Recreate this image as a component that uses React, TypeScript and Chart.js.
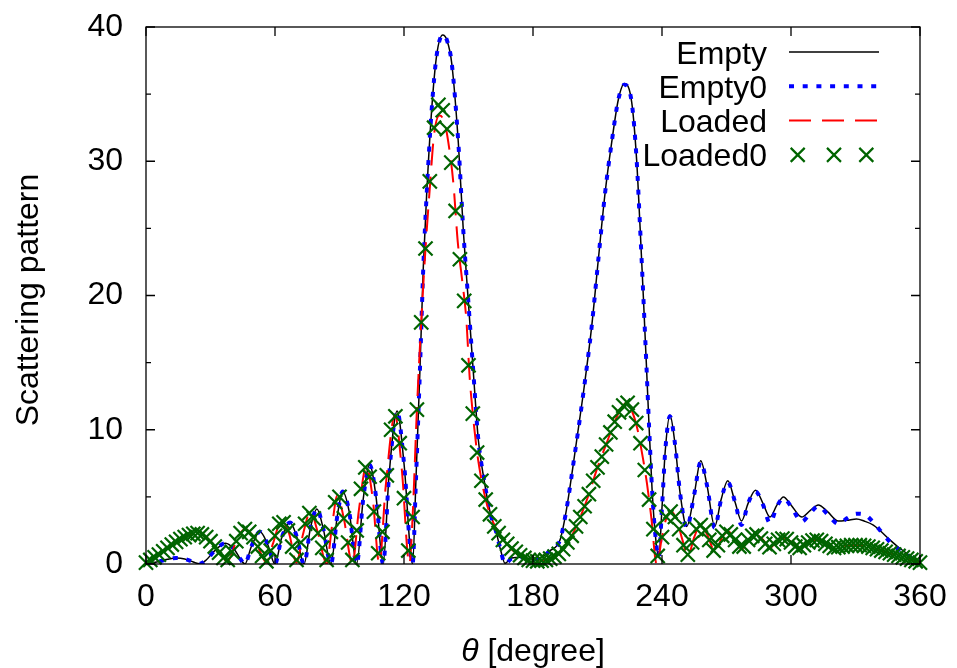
import React, { useEffect, useRef } from 'react';
import { Chart, registerables } from 'chart.js';

Chart.register(...registerables);

const FONT = "'Liberation Sans', Arial, Helvetica, sans-serif";

// ---------- data ----------
const emptyAngles = [
  0, 5, 10, 14, 18, 22, 25, 28, 32, 37,
  41, 44, 46, 49, 53, 56.5, 60, 63, 67, 70,
  73.5, 76.5, 79.5, 82.5, 86, 89, 91.5, 94.5, 98, 101,
  104, 107, 110.3, 113, 116.8, 120, 124, 125.5, 127.4, 129,
  130.5, 132.9, 135.2, 138, 140, 142.2, 145.3, 147.6, 149.9, 152.2,
  154.6, 156.9, 160, 163, 165, 167, 170, 175, 180, 184,
  188, 192.6, 195.5, 198.8, 203.4, 207.3, 210.4, 213.5, 216.6, 219.7,
  222.5, 225.9, 228.2, 229.8, 231.3, 232.7, 234, 235.4, 237, 238.5,
  240, 241.5, 243.7, 246, 248.4, 251.5, 255, 258, 261, 264.5,
  267.5, 270.6, 274, 277, 280, 283.5, 287, 290.2, 293.5, 296.5,
  300, 305, 309, 312.7, 317, 322, 326, 330.5, 334, 338.3,
  342, 346, 350, 353.8, 357, 360,
];

const emptyValues = [
  0, 0.15, 0.35, 0.45, 0.38, 0.15, 0.02, 0.3, 1.0, 1.55,
  1.1, 0.35, 0, 1.3, 2.4, 1.5, 0, 1.9, 3.1, 2.1,
  0, 2.7, 4.1, 2.6, 0, 3.6, 5.4, 3.9, 0, 4.8,
  7.4, 5.0, 0, 6.5, 11.4, 7.5, 0, 6.0, 14.4, 22.2,
  27.4, 33.9, 37.9, 39.4, 39.0, 37.3, 31.3, 24.8, 19.6, 14.4,
  9.2, 6.6, 3.9, 2.3, 1.0, 0.05, 0.45, 0.5, 0.35, 0.5,
  1.0, 1.8, 4.0, 7.5, 12.7, 17.7, 22.7, 27.6, 31.4, 34.6,
  35.8, 34.4, 30.1, 25.1, 20.0, 15.0, 10.2, 5.5, 2.0, 0.5,
  4.2, 8.4, 11.1, 9.0, 5.3, 2.8, 5.2, 7.7, 5.8, 2.8,
  4.8, 6.2, 4.6, 3.2, 4.5, 5.5, 4.5, 3.5, 4.4, 5.0,
  4.4, 3.5, 4.0, 4.4, 3.9, 3.2, 3.25, 3.35, 3.2, 2.9,
  2.4, 1.8, 1.25, 0.8, 0.4, 0.1,
];

const empty0Values = [
  0, 0.15, 0.35, 0.45, 0.38, 0.15, 0.02, 0.3, 1.0, 1.55,
  1.1, 0.35, 0, 1.3, 2.4, 1.5, 0, 1.9, 3.1, 2.1,
  0, 2.7, 4.1, 2.6, 0, 3.6, 5.4, 3.9, 0, 4.8,
  7.4, 5.0, 0, 6.5, 11.4, 7.5, 0, 6.0, 14.4, 22.2,
  27.4, 33.9, 37.9, 39.4, 39.0, 37.3, 31.3, 24.8, 19.6, 14.4,
  9.2, 6.6, 3.9, 2.3, 1.0, 0.0, 0.4, 0.5, 0.35, 0.5,
  1.0, 1.8, 4.0, 7.5, 12.7, 17.7, 22.7, 27.6, 31.4, 34.6,
  35.7, 34.4, 30.1, 25.1, 20.0, 15.0, 10.2, 5.5, 2.0, 0.5,
  4.2, 8.4, 11.0, 9.0, 5.3, 2.7, 5.2, 7.6, 5.8, 2.7,
  4.8, 6.1, 4.6, 2.9, 4.5, 5.4, 4.4, 3.05, 4.3, 4.9,
  4.3, 3.15, 3.8, 4.3, 3.7, 3.0, 3.4, 3.75, 3.7, 3.1,
  2.4, 1.65, 1.1, 0.7, 0.35, 0.1,
];

const loadedAngles = [
  0, 6, 12, 18, 24, 28, 32, 36, 38, 42,
  46, 50, 54, 56, 59, 63, 66.5, 70, 73, 76.5,
  80, 84, 86.5, 89, 92, 96, 99, 102.5, 105.5, 108.5,
  111.5, 115.8, 119, 122.5, 124, 126, 128, 130, 132, 134,
  136.5, 139, 141, 143, 145, 147, 149, 150.5, 152, 154,
  156, 158, 160, 163, 166, 170, 174, 178, 182, 186,
  190, 194, 198, 202, 206, 210, 214, 218, 221, 223.5,
  226, 228.5, 231, 233, 235, 237.5, 240, 242, 244.5, 247,
  249.5, 252, 255, 257.7, 261, 264.7, 268, 270.8, 274, 277,
  280, 283.3, 287, 290.2, 293.5, 297, 300.5, 304, 308, 312,
  316.5, 321, 325, 330, 335, 340, 346, 352, 356, 360,
];

const loadedValues = [
  0, 0.7, 1.45, 2.0, 2.3, 2.0, 1.3, 0.4, 0.2, 1.7,
  2.6, 2.0, 0.6, 0.1, 1.5, 3.2, 2.3, 0.1, 2.2, 3.9,
  2.3, 0, 2.8, 5.1, 3.4, 0, 4.0, 7.3, 4.8, 0,
  5.8, 11.1, 7.0, 0, 3.5, 11.5, 18.0, 23.5, 28.0, 32.0,
  33.4, 32.8, 31.0, 28.3, 24.0, 21.2, 18.2, 14.0, 11.2, 8.3,
  6.3, 4.8, 3.7, 2.6, 1.8, 1.1, 0.6, 0.3, 0.2, 0.3,
  0.55, 1.1, 2.1, 3.5, 5.2, 7.2, 8.9, 10.6, 11.6, 12.0,
  11.4, 10.1, 8.0, 6.0, 3.5, 0, 2.0, 3.4, 3.9, 3.2,
  1.8, 0.6, 2.0, 2.9, 2.2, 0.9, 2.0, 2.4, 1.9, 1.1,
  1.8, 2.2, 1.8, 1.2, 1.7, 1.9, 1.6, 1.2, 1.6, 1.8,
  1.5, 1.2, 1.35, 1.4, 1.3, 1.1, 0.8, 0.5, 0.3, 0.1,
];

const loaded0Angles = [
  0, 2, 4, 6, 8, 10, 12, 14, 16, 18,
  20, 22, 24, 26, 28, 30, 32, 34, 36, 38,
  40, 42, 44, 46, 48, 50, 52, 54, 56, 58,
  60, 62, 64, 66, 68, 70, 72, 74, 76, 78,
  80, 82, 84, 86, 88, 90, 92, 94, 96, 98,
  100, 102, 104, 106, 108, 110, 112, 114, 116, 118,
  120, 122, 124, 126, 128, 130, 132, 134, 136, 138,
  140, 142, 144, 146, 148, 150, 152, 154, 156, 158,
  160, 162, 164, 166, 168, 170, 172, 174, 176, 178,
  180, 182, 184, 186, 188, 190, 192, 194, 196, 198,
  200, 202, 204, 206, 208, 210, 212, 214, 216, 218,
  220, 222, 224, 226, 228, 230, 232, 234, 236, 238,
  240, 242, 244, 246, 248, 250, 252, 254, 256, 258,
  260, 262, 264, 266, 268, 270, 272, 274, 276, 278,
  280, 282, 284, 286, 288, 290, 292, 294, 296, 298,
  300, 302, 304, 306, 308, 310, 312, 314, 316, 318,
  320, 322, 324, 326, 328, 330, 332, 334, 336, 338,
  340, 342, 344, 346, 348, 350, 352, 354, 356, 358,
  360,
];

const loaded0Values = [
  0.1, 0.3, 0.5, 0.7, 0.95, 1.2, 1.45, 1.65, 1.85, 2.0,
  2.15, 2.25, 2.3, 2.2, 2.0, 1.7, 1.3, 0.85, 0.45, 0.3,
  0.9, 1.7, 2.3, 2.6, 2.4, 2.0, 1.3, 0.6, 0.2, 1.0,
  2.1, 3.0, 3.1, 2.5, 1.3, 0.3, 1.6, 3.0, 3.8, 3.4,
  2.3, 1.2, 0.3, 2.4, 4.6, 5.0, 3.4, 1.6, 0.3, 2.5,
  5.6, 7.2, 6.5, 3.9, 0.8, 2.4, 6.6, 10.0, 11.0, 9.0,
  4.9, 1.0, 3.5, 11.5, 18.0, 23.5, 28.5, 32.5, 34.2, 33.8,
  32.4, 29.9, 26.3, 22.7, 19.6, 14.8, 11.2, 8.3, 6.2, 4.8,
  3.7, 2.8, 2.3, 1.8, 1.5, 1.15, 0.9, 0.65, 0.45, 0.3,
  0.25, 0.2, 0.25, 0.3, 0.4, 0.55, 0.75, 1.1, 1.6, 2.1,
  2.8, 3.5, 4.3, 5.2, 6.2, 7.2, 8.0, 8.9, 9.8, 10.6,
  11.3, 11.8, 12.0, 11.5, 10.5, 9.0, 7.0, 4.8, 2.6, 0.6,
  2.0, 3.5, 3.9, 3.5, 2.6, 1.4, 0.7, 1.6, 2.6, 2.9,
  2.5, 1.8, 1.0, 1.4, 2.1, 2.4, 2.2, 1.8, 1.3, 1.3,
  1.8, 2.1, 2.2, 1.9, 1.5, 1.25, 1.5, 1.8, 1.9, 1.85,
  1.6, 1.3, 1.2, 1.4, 1.6, 1.75, 1.8, 1.7, 1.5, 1.35,
  1.2, 1.25, 1.3, 1.35, 1.4, 1.4, 1.4, 1.35, 1.3, 1.2,
  1.1, 1.0, 0.9, 0.8, 0.7, 0.6, 0.5, 0.4, 0.3, 0.2,
  0.1,
];

const seriesLabels = ['Empty', 'Empty0', 'Loaded', 'Loaded0'];
const xTickValues = [0, 60, 120, 180, 240, 300, 360];
const yMajorTicks = [0, 10, 20, 30, 40];
const yMinorTicks = [5, 15, 25, 35];
const xTitleSymbol = 'θ';
const xTitleRest = ' [degree]';
const yTitle = 'Scattering pattern';

function toPoints(xs: number[], ys: number[]) {
  return xs.map((x, i) => ({ x, y: ys[i] }));
}

const decorPlugin = {
  id: 'gnuplotDecor',
  afterDatasetsDraw(chart: any) {
    const { ctx, chartArea: a } = chart;
    const xs = chart.scales.x;
    const ys = chart.scales.y;
    ctx.save();
    ctx.strokeStyle = '#000';
    ctx.lineWidth = 1.3;
    ctx.setLineDash([]);
    ctx.beginPath();
    for (const v of xTickValues) {
      const p = xs.getPixelForValue(v);
      ctx.moveTo(p, a.bottom);
      ctx.lineTo(p, a.bottom - 9);
      ctx.moveTo(p, a.top);
      ctx.lineTo(p, a.top + 9);
    }
    for (const v of yMajorTicks) {
      const p = ys.getPixelForValue(v);
      ctx.moveTo(a.left, p);
      ctx.lineTo(a.left + 9, p);
      ctx.moveTo(a.right, p);
      ctx.lineTo(a.right - 9, p);
    }
    for (const v of yMinorTicks) {
      const p = ys.getPixelForValue(v);
      ctx.moveTo(a.left, p);
      ctx.lineTo(a.left + 5, p);
      ctx.moveTo(a.right, p);
      ctx.lineTo(a.right - 5, p);
    }
    ctx.stroke();
    ctx.strokeRect(a.left, a.top, a.right - a.left, a.bottom - a.top);

    // x title with italic theta
    ctx.fillStyle = '#000';
    ctx.textBaseline = 'alphabetic';
    ctx.textAlign = 'left';
    const italic = `italic 32px ${FONT}`;
    const normal = `32px ${FONT}`;
    ctx.font = italic;
    const w1 = ctx.measureText(xTitleSymbol).width;
    ctx.font = normal;
    const w2 = ctx.measureText(xTitleRest).width;
    const cx = (a.left + a.right) / 2;
    const x0 = cx - (w1 + w2) / 2;
    ctx.font = italic;
    ctx.fillText(xTitleSymbol, x0, 661);
    ctx.font = normal;
    ctx.fillText(xTitleRest, x0 + w1, 661);

    // y title
    ctx.save();
    ctx.translate(38, 300);
    ctx.rotate(-Math.PI / 2);
    ctx.textAlign = 'center';
    ctx.fillText(yTitle, 0, 0);
    ctx.restore();

    // legend (gnuplot style: text right-aligned, sample on the right)
    const textRight = 767;
    const s1 = 789;
    const s2 = 879;
    chart.data.datasets.forEach((ds: any, i: number) => {
      const rowY = 52 + i * 34.3;
      ctx.font = normal;
      ctx.textAlign = 'right';
      ctx.textBaseline = 'alphabetic';
      ctx.fillStyle = '#000';
      ctx.fillText(ds.label, textRight, rowY + 11.5);
      if (ds.showLine === false) {
        ctx.strokeStyle = ds.pointBorderColor;
        ctx.lineWidth = ds.pointBorderWidth;
        ctx.setLineDash([]);
        const r = 7;
        ctx.beginPath();
        for (const cxp of [797.7, 834, 866.3]) {
          ctx.moveTo(cxp - r, rowY - r);
          ctx.lineTo(cxp + r, rowY + r);
          ctx.moveTo(cxp - r, rowY + r);
          ctx.lineTo(cxp + r, rowY - r);
        }
        ctx.stroke();
      } else {
        ctx.strokeStyle = ds.borderColor;
        ctx.lineWidth = ds.borderWidth;
        ctx.lineCap = 'butt';
        ctx.setLineDash(ds.borderDash || []);
        ctx.beginPath();
        ctx.moveTo(s1, rowY);
        ctx.lineTo(s2, rowY);
        ctx.stroke();
        ctx.setLineDash([]);
      }
    });
    ctx.restore();
  },
};

export default function App() {
  const ref = useRef<HTMLCanvasElement>(null);

  useEffect(() => {
    const tickFont = { family: FONT, size: 32 };
    const chart = new Chart(ref.current as HTMLCanvasElement, {
      type: 'line',
      data: {
        datasets: [
          {
            label: seriesLabels[0],
            data: toPoints(emptyAngles, emptyValues),
            borderColor: '#000000',
            borderWidth: 1.5,
            pointRadius: 0,
            cubicInterpolationMode: 'monotone',
            fill: false,
            order: 4,
          },
          {
            label: seriesLabels[1],
            data: toPoints(emptyAngles, empty0Values),
            borderColor: '#0000ff',
            borderWidth: 4,
            borderDash: [5, 8.7],
            borderCapStyle: 'butt',
            pointRadius: 0,
            cubicInterpolationMode: 'monotone',
            fill: false,
            order: 3,
          },
          {
            label: seriesLabels[2],
            data: toPoints(loadedAngles, loadedValues),
            borderColor: '#ff0000',
            borderWidth: 2,
            borderDash: [22, 11],
            pointRadius: 0,
            cubicInterpolationMode: 'monotone',
            fill: false,
            order: 2,
          },
          {
            label: seriesLabels[3],
            data: toPoints(loaded0Angles, loaded0Values),
            showLine: false,
            pointStyle: 'crossRot',
            pointRadius: 10,
            pointBorderWidth: 2.2,
            pointBorderColor: '#006400',
            pointBackgroundColor: 'rgba(0,0,0,0)',
            borderColor: '#006400',
            clip: false,
            order: 1,
          },
        ] as any,
      },
      options: {
        animation: false,
        responsive: false,
        events: [],
        layout: { padding: { top: 27, right: 37, left: 0, bottom: 0 } },
        plugins: {
          legend: { display: false },
          tooltip: { enabled: false },
        },
        scales: {
          x: {
            type: 'linear',
            min: 0,
            max: 360,
            afterFit: (s: any) => {
              s.height = 104;
              s.paddingLeft = 0;
              s.paddingRight = 0;
            },
            ticks: {
              stepSize: 60,
              font: tickFont,
              color: '#000',
              padding: 14,
              maxRotation: 0,
              autoSkip: false,
            },
            grid: { display: false, drawTicks: false },
            border: { display: false },
          },
          y: {
            type: 'linear',
            min: 0,
            max: 40,
            afterFit: (s: any) => {
              s.width = 146;
              s.paddingTop = 0;
              s.paddingBottom = 0;
            },
            ticks: {
              stepSize: 10,
              font: tickFont,
              color: '#000',
              padding: 23,
            },
            grid: { display: false, drawTicks: false },
            border: { display: false },
          },
        },
      } as any,
      plugins: [decorPlugin],
    });
    return () => chart.destroy();
  }, []);

  return (
    <canvas
      ref={ref}
      width={957}
      height={668}
      style={{ position: 'absolute', left: 0, top: 0, width: '957px', height: '668px' }}
    />
  );
}
